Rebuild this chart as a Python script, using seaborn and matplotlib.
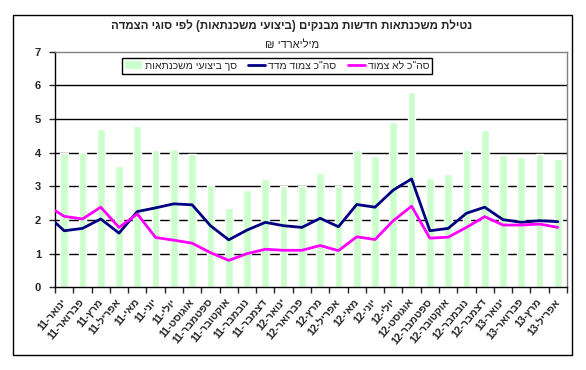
import re
import matplotlib
matplotlib.use("Agg")
import matplotlib.pyplot as plt
import numpy as np
import pandas as pd
import seaborn as sns
from matplotlib.lines import Line2D
from matplotlib.patches import Patch, Rectangle

MONTHS = ["ינואר", "פברואר", "מרץ", "אפריל", "מאי", "יוני",
          "יולי", "אוגוסט", "ספטמבר", "אוקטובר", "נובמבר", "דצמבר"]
LABELS = ["{}-{}".format(m, y) for y in (11, 12) for m in MONTHS] + \
         ["{}-13".format(m) for m in MONTHS[:4]]

TOTAL = [4.0, 4.02, 4.7, 3.6, 4.8, 4.08, 4.1, 3.95, 3.03, 2.35, 2.89, 3.21, 3.02, 3.0,
         3.41, 3.02, 4.09, 3.9, 4.92, 5.81, 3.24, 3.38, 4.09, 4.66, 3.94, 3.88, 3.97, 3.82]
# first value of each line sits on the y axis (left edge of the category axis)
INDEXED = [1.93, 1.68, 1.75, 2.03, 1.61, 2.25, 2.36, 2.48, 2.45, 1.83, 1.41, 1.70, 1.93, 1.83,
           1.78, 2.05, 1.80, 2.46, 2.38, 2.89, 3.22, 1.68, 1.75, 2.20, 2.38, 2.01, 1.93, 1.98, 1.95]
UNINDEXED = [2.28, 2.11, 2.03, 2.38, 1.78, 2.18, 1.48, 1.40, 1.31, 1.03, 0.80, 1.0, 1.13, 1.10,
             1.10, 1.24, 1.09, 1.50, 1.42, 1.98, 2.41, 1.46, 1.49, 1.78, 2.10, 1.85, 1.85, 1.88, 1.78]

TITLE = "נטילת משכנתאות חדשות מבנקים (ביצועי משכנתאות) לפי סוגי הצמדה"
SUBTITLE = "מיליארדי ₪"
SERIES = ["סך ביצועי משכנתאות", 'סה"כ צמוד מדד', 'סה"כ לא צמוד']


def visual(s):
    # crude bidi: matplotlib draws left-to-right only
    out = s[::-1]
    out = re.sub(r"\d+", lambda m: m.group(0)[::-1], out)
    return out.translate(str.maketrans("()", ")("))


sns.set_style("white")
plt.rcParams["font.family"] = ["Liberation Sans", "DejaVu Sans"]

n = len(LABELS)
bars = pd.DataFrame({"pos": np.arange(n), "value": TOTAL})
line_x = np.concatenate([[-0.5], np.arange(n)])

fig = plt.figure(figsize=(5.86, 3.70), dpi=100)
ax = fig.add_axes([0.0939, 0.2235, 0.8737, 0.6368])

for y in range(1, 7):
    ax.axhline(y, color="black", lw=1, zorder=0)

sns.barplot(data=bars, x="pos", y="value", color="#ccffcc", width=0.42,
            saturation=1, ax=ax, zorder=2)
sns.lineplot(x=line_x, y=INDEXED, color="#000080", lw=2, ax=ax, zorder=3)
sns.lineplot(x=line_x, y=UNINDEXED, color="#ff00ff", lw=2, ax=ax, zorder=3)

ax.set_xlim(-0.5, n - 0.5)
ax.set_ylim(0, 7)
ax.set_xlabel("")
ax.set_ylabel("")

ax.set_yticks(range(8))
ax.set_yticklabels([str(v) for v in range(8)], fontsize=8, fontweight="bold")
ax.tick_params(axis="y", length=4, width=1, pad=6, left=True)

ax.set_xticks(np.arange(n + 1) - 0.5)
ax.set_xticklabels([])
ax.tick_params(axis="x", which="major", length=4, width=1, bottom=True)
ax.set_xticks(np.arange(n), minor=True)
ax.set_xticklabels([visual(l) for l in LABELS], minor=True, rotation=50,
                   ha="right", va="center", rotation_mode="anchor",
                   fontsize=7.5, fontweight="bold")
ax.tick_params(axis="x", which="minor", length=0, pad=9)

for side in ("left", "bottom"):
    ax.spines[side].set_color("black")
for side in ("top", "right"):
    ax.spines[side].set_color("#808080")
for s in ax.spines.values():
    s.set_linewidth(1)

handles = [Patch(facecolor="#ccffcc", edgecolor="none"),
           Line2D([], [], color="#000080", lw=2),
           Line2D([], [], color="#ff00ff", lw=2)]
leg = ax.legend(handles, [visual(s) for s in SERIES], ncol=3, loc="upper left",
                bbox_to_anchor=(0.131, 0.975), fontsize=7.5, frameon=True,
                fancybox=False, edgecolor="black", framealpha=1,
                borderpad=0.3, handlelength=1.6, handletextpad=0.3,
                columnspacing=1.1, borderaxespad=0)
leg.get_frame().set_linewidth(1)

fig.text(0.498, 0.93, visual(TITLE), ha="center", va="center",
         fontsize=8.3, fontweight="bold")
fig.text(0.498, 0.878, visual(SUBTITLE), ha="center", va="center", fontsize=8)

fig.patches.append(Rectangle((0.0217, 0.0405), 0.9543, 0.919, transform=fig.transFigure,
                             fill=False, edgecolor="black", lw=1))

fig.savefig("out.png", dpi=100)
